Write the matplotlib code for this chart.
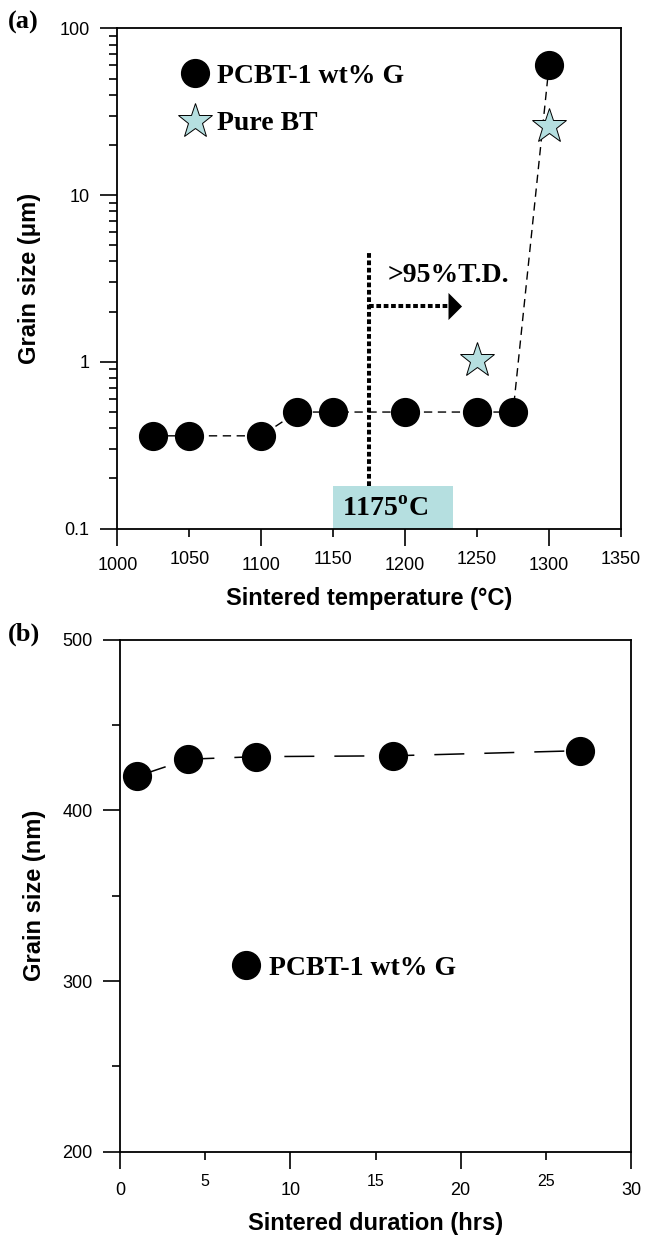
import numpy as np
import matplotlib
matplotlib.use("Agg")
import matplotlib.pyplot as plt
from matplotlib.lines import Line2D
from matplotlib.patches import Rectangle

plt.rcParams['font.family'] = 'Liberation Sans'
plt.rcParams['mathtext.fontset'] = 'custom'
plt.rcParams['mathtext.rm'] = 'Liberation Serif'
plt.rcParams['mathtext.bf'] = 'Liberation Serif:bold'
plt.rcParams['lines.scale_dashes'] = False

# (a) grain size vs sintering temperature
temp_g = [1025, 1050, 1100, 1125, 1150, 1200, 1250, 1275, 1300]
size_g = [0.36, 0.36, 0.36, 0.50, 0.50, 0.50, 0.50, 0.50, 60]
temp_bt = [1250, 1300]
size_bt = [1.03, 26]
temp_ticks = [1000, 1050, 1100, 1150, 1200, 1250, 1300, 1350]
size_ticks = [0.1, 1, 10, 100]
size_labels = ['0.1', '1', '10', '100']
t_dense = 1175  # >95% T.D. reached above this

# (b) grain size vs sintering time
hours = [1, 4, 8, 16, 27]
size_nm = [420, 430, 431.5, 432, 435]
hour_ticks = [0, 5, 10, 15, 20, 25, 30]
nm_ticks = [200, 300, 400, 500]
nm_minor = [250, 350, 450]

black = 'black'
teal = '#b5dfe0'
serif_bold = dict(family='Liberation Serif', weight='bold')
legend_font = dict(family='Liberation Serif', weight='bold', size=20)

fig = plt.figure(figsize=(6.46, 12.37), dpi=100)

# ---------------- panel (a)
ax1 = fig.add_axes([0.1816, 0.5727, 0.7797, 0.4043])
ax1.set_yscale('log')
ax1.plot(temp_g, size_g, color=black, lw=1.0, dashes=(6, 4), zorder=3)
ax1.plot(temp_g, size_g, 'o', color=black, ms=20, zorder=5)
ax1.plot(temp_bt, size_bt, '*', ms=26, mfc=teal, mec=black, mew=0.7, zorder=6)

# density marker line, arrow and label box
ax1.vlines(t_dense, 0.18, 4.6, color=black, lw=2.9, linestyles=(0, (3.4, 1.9)), zorder=4)
ax1.plot([t_dense, 1229.5], [2.16, 2.16], color=black, lw=2.9, dashes=(3.4, 1.9),
         dash_capstyle='butt', zorder=4)
ax1.plot([1229.5], [2.16], marker=[(0, -1), (0, 1), (1, 0), (0, -1)], ms=19.5,
         color=black, mew=0, zorder=4)
ax1.text(1187.5, 3.3, '>95%T.D.', fontsize=20, va='center', ha='left', **serif_bold)
ax1.add_patch(Rectangle((1150, 0.1), 83, 0.08, facecolor=teal, edgecolor='none', zorder=2))
ax1.text(1156, 0.131, r'1175$^{\mathbf{o}}$C', fontsize=20, va='center', ha='left',
         zorder=6, **serif_bold)

ax1.set_xlim(1000, 1350)
ax1.set_ylim(0.1, 100)
# every other x tick is short and its label sits higher
ax1.set_xticks(temp_ticks[::2])
ax1.set_xticklabels([str(t) for t in temp_ticks[::2]])
ax1.set_xticks(temp_ticks[1::2], minor=True)
ax1.set_xticklabels([str(t) for t in temp_ticks[1::2]], minor=True)
ax1.set_yticks(size_ticks)
ax1.set_yticklabels(size_labels)
ax1.yaxis.set_minor_locator(matplotlib.ticker.LogLocator(base=10, subs=np.arange(2, 10)))
ax1.yaxis.set_minor_formatter(matplotlib.ticker.NullFormatter())
ax1.tick_params(axis='y', which='major', direction='out', length=12, width=1.2,
                pad=8, labelsize=13)
ax1.tick_params(axis='y', which='minor', direction='out', length=5.5, width=1.2)
ax1.tick_params(axis='x', which='major', direction='out', length=12, width=1.2,
                pad=8.4, labelsize=13)
ax1.tick_params(axis='x', which='minor', direction='out', length=6, width=1.2,
                pad=10.4, labelsize=13)
ax1.set_xlabel('Sintered temperature (°C)', fontsize=17, fontweight='bold', labelpad=9.5)
ax1.set_ylabel('Grain size (μm)', fontsize=17, fontweight='bold', labelpad=13)

h_g = Line2D([], [], marker='o', ls='none', color=black, ms=20)
h_bt = Line2D([], [], marker='*', ls='none', ms=26, mfc=teal, mec=black, mew=0.7)
ax1.legend([h_g, h_bt], ['PCBT-1 wt% G', 'Pure BT'], loc='upper left',
           bbox_to_anchor=(0.127, 0.93), frameon=False, borderpad=0, borderaxespad=0,
           handlelength=1.0, handletextpad=0.3, labelspacing=0.79, prop=legend_font)

# ---------------- panel (b)
ax2 = fig.add_axes([0.186, 0.069, 0.7907, 0.4138])
ax2.plot(hours, size_nm, color=black, lw=1.1, dashes=(21.6, 14.4), zorder=3)
ax2.plot(hours, size_nm, 'o', color=black, ms=20, zorder=5)
ax2.set_xlim(0, 30)
ax2.set_ylim(200, 500)
ax2.set_xticks(hour_ticks[::2])
ax2.set_xticklabels([str(h) for h in hour_ticks[::2]])
ax2.set_xticks(hour_ticks[1::2], minor=True)
ax2.set_xticklabels([str(h) for h in hour_ticks[1::2]], minor=True)
ax2.set_yticks(nm_ticks)
ax2.set_yticklabels([str(v) for v in nm_ticks])
ax2.set_yticks(nm_minor, minor=True)
ax2.tick_params(axis='y', which='major', direction='out', length=12.5, width=1.2,
                pad=7.2, labelsize=13)
ax2.tick_params(axis='y', which='minor', direction='out', length=6, width=1.2)
ax2.tick_params(axis='x', which='major', direction='out', length=12.5, width=1.2,
                pad=9, labelsize=13)
ax2.tick_params(axis='x', which='minor', direction='out', length=5.8, width=1.2,
                pad=10.4, labelsize=11.5)
ax2.set_xlabel('Sintered duration (hrs)', fontsize=17, fontweight='bold', labelpad=10)
ax2.set_ylabel('Grain size (nm)', fontsize=17, fontweight='bold', labelpad=12)

ax2.legend([h_g], ['PCBT-1 wt% G'], loc='upper left',
           bbox_to_anchor=(0.219, 0.383), frameon=False, borderpad=0, borderaxespad=0,
           handlelength=1.0, handletextpad=0.32, prop=legend_font)

for ax in (ax1, ax2):
    for sp in ax.spines.values():
        sp.set_linewidth(1.3)

fig.text(8 / 646, 1 - 22 / 1237, '(a)', fontsize=19, va='center', ha='left', **serif_bold)
fig.text(8 / 646, 1 - 634 / 1237, '(b)', fontsize=19, va='center', ha='left', **serif_bold)

fig.savefig('out.png', dpi=100)
